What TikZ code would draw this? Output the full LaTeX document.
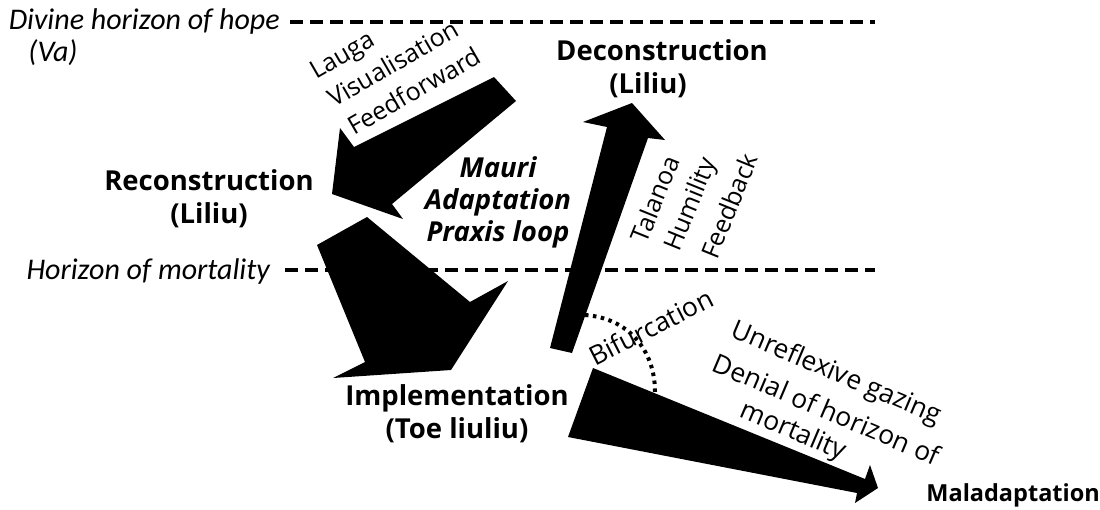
\documentclass[tikz,border=0pt]{standalone}
\usepackage{fontspec}
\setmainfont{Open Sans}
\newfontfamily\calfont{Carlito}
\begin{document}
\begin{tikzpicture}[x=1pt,y=-1pt,
  blk/.style={fill=black,draw=none},
  hz/.style={line width=3.5pt, dash pattern=on 13pt off 7pt},
  dotarc/.style={line width=4pt, dash pattern=on 3.5pt off 4.5pt},
  bl/.style={font=\fontsize{27.5}{33}\selectfont\bfseries, inner sep=0pt, anchor=base},
  bi/.style={font=\fontsize{27.5}{32}\selectfont\bfseries\itshape, inner sep=0pt, anchor=base},
  rt/.style={font=\fontsize{26.5}{37}\selectfont, inner sep=0pt},
  rs/.style={font=\fontsize{25}{35}\selectfont, inner sep=0pt},
  hl/.style={font=\calfont\itshape\fontsize{30}{32}\selectfont, inner sep=0pt}]
\useasboundingbox (0,0) rectangle (1100,509);

% horizons
\node[hl, anchor=base east] (divine) at (280,29) {Divine horizon of hope};
\node[hl, anchor=base] (va) at (53,61) {(Va)};
\node[hl, anchor=base east] (mort) at (270,279) {Horizon of mortality};
\coordinate (t1) at (290,22);
\coordinate (t2) at (875,22);
\coordinate (m1) at (285,270);
\coordinate (m2) at (875,270);
\draw[hz] (t1) -- (t2);
\draw[hz] (m1) -- (m2);

% arrows
\fill[blk] (494,77) -- (354,147) -- (340,128) -- (332,194) -- (403,219) -- (392,204) -- (516,101) -- cycle;
\fill[blk] (367,217) -- (470,302) -- (508,281) -- (451,370) -- (333,378) -- (365,362) -- (317,245) -- cycle;
\fill[blk] (550,348) -- (607,127) -- (583,122) -- (632,103) -- (665,140) -- (648,138) -- (572,353) -- cycle;
\fill[blk] (593,368) -- (865,479) -- (870,465) -- (878,488) -- (855,503) -- (857,493) -- (568,437) -- cycle;

% bifurcation arc
\coordinate (b1) at (585,315);
\coordinate (b2) at (655,392);
\draw[dotarc] (b1) .. controls (628,318) and (655,350) .. (b2);

% stage labels
\node[bl] (rec1) at (209,190) {Reconstruction};
\node[bl] (rec2) at (209,223) {(Liliu)};
\node[bl] (dec1) at (662,60) {Deconstruction};
\node[bl] (dec2) at (648,93) {(Liliu)};
\node[bl] (imp1) at (457,405) {Implementation};
\node[bl] (imp2) at (457,438) {(Toe liuliu)};
\node[bl, font=\fontsize{23.5}{28}\selectfont\bfseries, anchor=base east] (mal) at (1100,501) {Maladaptation};

\node[bi] (mauri1) at (498,177) {Mauri};
\node[bi] (mauri2) at (498,209) {Adaptation};
\node[bi] (mauri3) at (498,241) {Praxis loop};

% rotated labels
\node[rs, rotate=30, anchor=base west] (lau1) at (316,80) {Lauga};
\node[rs, rotate=30, anchor=base west] (lau2) at (334,108) {Visualisation};
\node[rs, rotate=30, anchor=base west] (lau3) at (354,136) {Feedforward};
\node[rs, rotate=68] (tal) at (655,199) {Talanoa};
\node[rs, rotate=68] (hum) at (692,205) {Humility};
\node[rs, rotate=68] (fee) at (729,206) {Feedback};
\node[rt, rotate=27] (bif) at (651,327) {Bifurcation};
\node[rt, rotate=-23] (unr1) at (836,374) {Unreflexive gazing};
\node[rt, rotate=-23] (unr2) at (827,409) {Denial of horizon of};
\node[rt, rotate=-23] (unr3) at (793,432) {mortality};
\end{tikzpicture}
\end{document}
